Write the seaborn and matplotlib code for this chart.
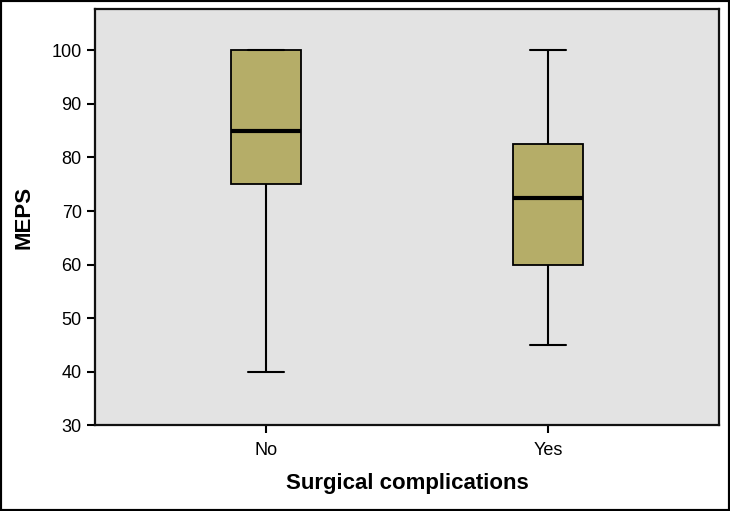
import pandas as pd
import matplotlib.pyplot as plt
import matplotlib.patches as mpatches
import seaborn as sns

# Box summary values (min, Q1, median, Q3, max)
groups = ['No', 'Yes']
no_values = [40, 75, 85, 100, 100]
yes_values = [45, 60, 72.5, 82.5, 100]
y_ticks = [30, 40, 50, 60, 70, 80, 90, 100]

df = pd.DataFrame({
    'complications': ['No'] * len(no_values) + ['Yes'] * len(yes_values),
    'MEPS': no_values + yes_values,
})

sns.set_style('white')
plt.rcParams['font.family'] = ['Liberation Sans', 'DejaVu Sans']
plt.rcParams['text.color'] = 'black'
plt.rcParams['axes.labelcolor'] = 'black'

fig = plt.figure(figsize=(7.3, 5.11), dpi=100)
ax = fig.add_axes([0.130, 0.168, 0.855, 0.814])
ax.set_facecolor('#e3e3e3')

line_kw = dict(color='black', linewidth=1.5)
sns.boxplot(data=df, x='complications', y='MEPS', order=groups, ax=ax,
            color='#b5ad68', width=0.25, whis=1.5, fliersize=0,
            saturation=1,
            boxprops=dict(edgecolor='black', linewidth=1.3),
            whiskerprops=line_kw, capprops=line_kw,
            medianprops=dict(color='black', linewidth=3))

ax.set_xlim(-0.607, 1.607)
ax.set_ylim(30, 107.7)
ax.set_yticks(y_ticks)
ax.set_xlabel('Surgical complications', fontsize=16, fontweight='bold', labelpad=10)
ax.set_ylabel('MEPS', fontsize=16, fontweight='bold', labelpad=12)
ax.tick_params(axis='both', direction='out', length=6, width=1.5,
               labelsize=13, colors='black', left=True, bottom=True)
ax.tick_params(axis='x', pad=6)
for s in ax.spines.values():
    s.set_visible(True)
    s.set_color('#111111')
    s.set_linewidth(1.6)

fig.patches.append(mpatches.Rectangle((0, 0), 1, 1, transform=fig.transFigure,
                                      fill=False, edgecolor='black', linewidth=3))

fig.savefig('out.png', dpi=100)
